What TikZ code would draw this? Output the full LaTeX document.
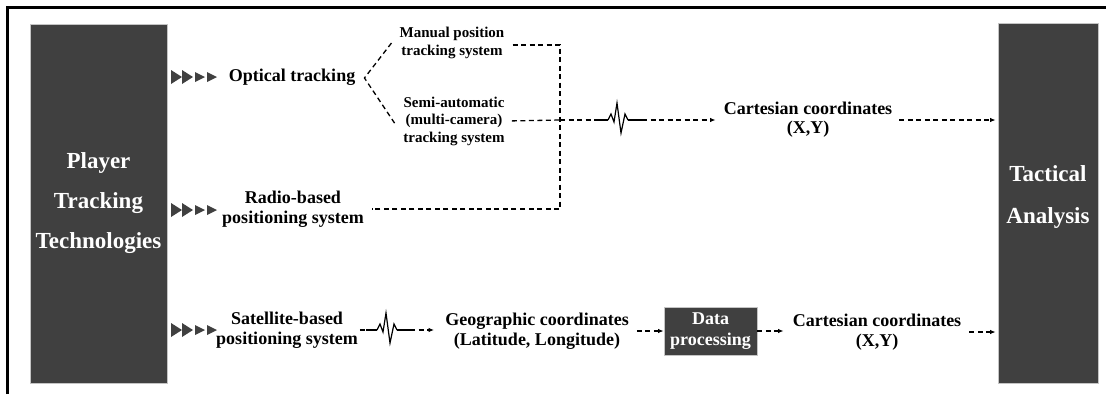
\documentclass[tikz,border=0pt]{standalone}
\usepackage{fontspec}
\setmainfont{Liberation Serif}
\usetikzlibrary{arrows.meta,calc}
\definecolor{boxgray}{HTML}{404040}
\definecolor{edgegray}{HTML}{C4C4C4}
\tikzset{
  tris/.pic={
    \fill[boxgray] (0,-7) -- (11,0) -- (0,7) -- cycle;
    \fill[boxgray] (11,-7) -- (22,0) -- (11,7) -- cycle;
    \fill[boxgray] (24,-5) -- (34,0) -- (24,5) -- cycle;
    \fill[boxgray] (36,-5) -- (46,0) -- (36,5) -- cycle;
  },
  zz/.pic={
    \draw[line width=1.2pt, line join=miter] (0,0) -- (3,-6) -- (6,2) -- (9,-17) -- (13,13) -- (17,-6) -- (20,0);
  }
}
\begin{document}
\begin{tikzpicture}[x=1pt,y=-1pt,
  lbl/.style={font=\bfseries\fontsize{18}{20.5}\selectfont, align=center, inner sep=2pt},
  sml/.style={font=\bfseries\fontsize{15}{17.5}\selectfont, align=center, inner sep=2pt},
  bigbox/.style={fill=boxgray, draw=edgegray, line width=0.8pt, text=white, align=center,
    font=\bfseries\fontsize{23}{40}\selectfont},
  smallbox/.style={fill=boxgray, draw=edgegray, line width=0.8pt, text=white, align=center,
    font=\bfseries\fontsize{18}{21}\selectfont, inner sep=1pt},
  dsh/.style={dash pattern=on 5pt off 3.5pt, line width=1.3pt},
  sld/.style={solid, line width=1.2pt},
  arr/.style={-{Latex[length=5.5pt,width=4.5pt]}}
]
\useasboundingbox (0,0) rectangle (1106,394);
% frame (top and left edges)
\draw[line width=3pt] (7,394) -- (7,7) -- (1106,7);

% big boxes
\node[bigbox, minimum width=137pt, minimum height=359pt] (ptt) at (98.5,203.5) {Player\\Tracking\\Technologies};
\node[bigbox, minimum width=100pt, minimum height=360pt] (ta) at (1048,203) {};
\node[text=white, align=center, font=\bfseries\fontsize{23}{42}\selectfont] (tatxt) at (1048,197) {Tactical\\Analysis};

% triangle markers
\pic at (171,77) {tris};
\pic at (171,210) {tris};
\pic at (171,330) {tris};

% labels
\node[lbl] (opt) at (292,77) {Optical tracking};
\node[sml] (man) at (452,43) {Manual position\\tracking system};
\node[sml] (semi) at (454,121) {Semi-automatic\\(multi-camera)\\tracking system};
\node[lbl] (radio) at (293,209) {Radio-based\\positioning system};
\node[lbl] (sat) at (287,330) {Satellite-based\\positioning system};
\node[lbl, font=\bfseries\fontsize{18}{19}\selectfont] (cart1) at (808,120) {Cartesian coordinates\\(X,Y)};
\node[lbl] (geo) at (537,331) {Geographic coordinates\\(Latitude, Longitude)};
\node[smallbox, minimum width=93pt, minimum height=48pt] (dp) at (710.5,331) {Data\\processing};
\node[lbl] (cart2) at (877,332) {Cartesian coordinates\\(X,Y)};

% optical tracking branch
\draw[dsh] ([xshift=-6pt]man.west) -- ([xshift=7pt,yshift=-1pt]opt.east) -- ([xshift=-6pt,yshift=-3pt]semi.west);

% junction
\coordinate (jmid) at (560,120);
\draw[dsh, shorten <=6pt, shorten >=6pt] ([yshift=-2pt]man.east) -| (jmid) |- (radio.east);
\draw[dsh, shorten <=5pt] (semi.east) -- (jmid);

% top signal line with zigzag
\coordinate (z1a) at (598,120);
\coordinate (z1b) at (608,120);
\coordinate (z1c) at (628,120);
\coordinate (z1d) at (642,120);
\draw[dsh] (jmid) -- (z1a);
\draw[sld] (z1a) -- (z1b);
\pic at (z1b) {zz};
\draw[sld] (z1c) -- (z1d);
\draw[dsh, arr, shorten >=6pt] (z1d) -- (z1d -| cart1.west);
\draw[dsh, arr, shorten <=5pt, shorten >=2pt] (cart1.east) -- (cart1.east -| ta.west);

% bottom signal line
\coordinate (z2a) at (366,330);
\coordinate (z2b) at (377,330);
\coordinate (z2c) at (397,330);
\coordinate (z2d) at (410,330);
\draw[dsh] (sat.east) -- (z2a);
\draw[sld] (z2a) -- (z2b);
\pic at (z2b) {zz};
\draw[sld] (z2c) -- (z2d);
\draw[dsh, arr, shorten >=9pt] (z2d) -- (z2d -| geo.west);
\draw[dsh, arr, shorten <=6pt] (geo.east) -- (geo.east -| dp.west);
\draw[dsh, arr, shorten >=7pt] (dp.east) -- (dp.east -| cart2.west);
\draw[dsh, arr, shorten <=6pt, shorten >=2pt] (cart2.east) -- (cart2.east -| ta.west);
\end{tikzpicture}
\end{document}
